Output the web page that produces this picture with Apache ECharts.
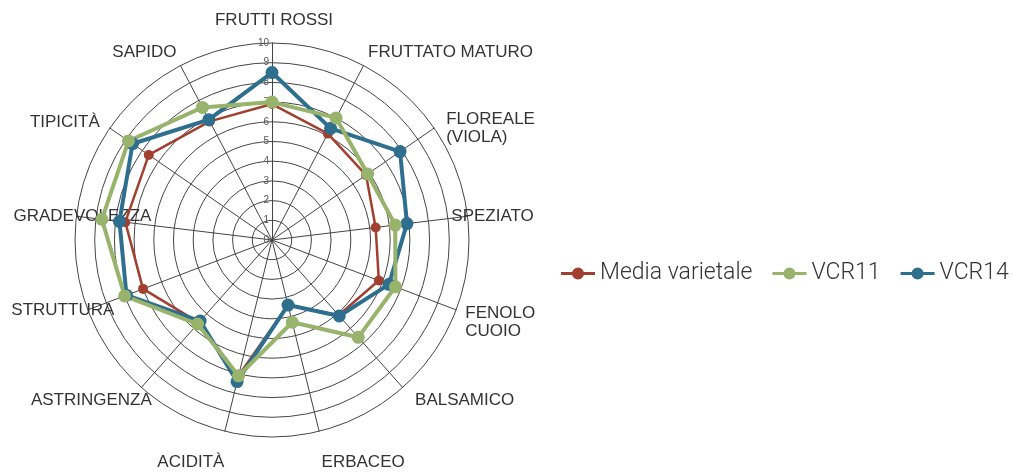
<!DOCTYPE html>
<html>
<head>
<meta charset="utf-8">
<script src="https://cdn.jsdelivr.net/npm/echarts@6/dist/echarts.min.js"></script>
<style>
  html, body { margin: 0; padding: 0; background: #fff; }
  #chart { width: 1014px; height: 472px; }
</style>
</head>
<body>
<div id="chart"></div>
<script>
// assi del radar (in senso orario dall'alto)
var categories = ['FRUTTI ROSSI', 'FRUTTATO MATURO', 'FLOREALE\n(VIOLA)', 'SPEZIATO', 'FENOLO\nCUOIO',
  'BALSAMICO', 'ERBACEO', 'ACIDITÀ', 'ASTRINGENZA', 'STRUTTURA', 'GRADEVOLEZZA', 'TIPICITÀ', 'SAPIDO'];
var seriesNames = ['Media varietale', 'VCR11', 'VCR14'];
var mediaVarietale = [6.9, 6.1, 5.8, 5.3, 5.8, 5.1, 3.4, 7.1, 5.6, 7.0, 7.5, 7.6, 6.8];
var vcr11 = [7.0, 7.0, 5.9, 6.3, 6.7, 6.6, 4.3, 7.1, 5.7, 8.0, 8.7, 8.85, 7.6];
var vcr14 = [8.5, 6.4, 7.9, 6.9, 6.35, 5.15, 3.4, 7.4, 5.5, 7.9, 7.8, 8.6, 6.9];
var tickMax = 10;

// posizione delle etichette: [dx, allineamento, verticalAlign, lineHeight, nameGap]
var nameLayout = [
  [2, 'center', 'middle', 18, 23],
  [87, 'center', 'bottom', 27, 0],
  [12, 'left', 'middle', 18, 0],
  [25, 'center', 'middle', 18, 0],
  [25, 'left', 'top', 18, -17],
  [62, 'center', 'top', 25, 0],
  [44, 'center', 'top', 62, 0],
  [-34, 'center', 'top', 62, 0],
  [-50, 'center', 'top', 25, 0],
  [-25, 'center', 'middle', 18, 0],
  [6, 'center', 'middle', 18, 0],
  [-45, 'center', 'bottom', 12, 0],
  [-36, 'center', 'bottom', 26, 0]
];

var colors = ['#a2402f', '#98b36b', '#2e6f8f'];
var legendIcon = 'path://M0,5.5 L34,5.5 L34,8.5 L0,8.5 Z M17,1 A6,6 0 1,1 16.99,1 Z';

// echarts disegna il radar in senso antiorario: inverto l'ordine (tranne il primo)
var order = [0];
for (var k = categories.length - 1; k > 0; k--) order.push(k);
function reorder(arr) {
  return order.map(function (i) { return arr[i]; });
}

function namePadding(dx, align) {
  if (align === 'left') return [0, 0, 0, dx];
  return [0, dx < 0 ? -2 * dx : 0, 0, dx > 0 ? 2 * dx : 0];
}

var myChart = echarts.init(document.getElementById('chart'));

var indicator = order.map(function (i) {
  var l = nameLayout[i];
  var item = {
    name: categories[i], max: tickMax, min: 0,
    nameGap: l[4],
    nameMoveOverlap: false,
    nameTextStyle: {
      align: l[1],
      verticalAlign: l[2],
      lineHeight: l[3],
      padding: namePadding(l[0], l[1])
    }
  };
  if (i === 0) {
    // solo il primo asse mostra le etichette 0-10
    item.axisLabel = { show: true };
  }
  return item;
});

var option = {
  animation: false,
  color: colors,
  legend: {
    data: seriesNames,
    left: 556,
    top: 257,
    itemWidth: 34,
    itemHeight: 14,
    itemGap: 20,
    icon: legendIcon,
    textStyle: {
      fontFamily: 'Roboto',
      fontWeight: 300,
      fontSize: 23,
      color: '#333'
    }
  },
  radar: {
    center: [272, 240],
    radius: 197,
    startAngle: 90,
    splitNumber: 10,
    shape: 'circle',
    nameGap: 0,
    axisName: {
      color: '#333',
      fontFamily: 'Liberation Sans',
      fontSize: 17,
      lineHeight: 18
    },
    axisLine: { lineStyle: { color: '#444', width: 1 } },
    splitLine: { lineStyle: { color: '#444', width: 1 } },
    splitArea: { show: false },
    axisLabel: {
      show: false,
      color: '#555',
      fontSize: 10,
      fontFamily: 'Liberation Sans',
      margin: 3
    },
    indicator: indicator
  },
  series: [{
    type: 'radar',
    symbol: 'circle',
    data: [
      {
        name: seriesNames[0], value: reorder(mediaVarietale), symbolSize: 10,
        lineStyle: { width: 2.5, color: colors[0] }, itemStyle: { color: colors[0] }
      },
      {
        name: seriesNames[2], value: reorder(vcr14), symbolSize: 13,
        lineStyle: { width: 4, color: colors[2] }, itemStyle: { color: colors[2] }
      },
      {
        name: seriesNames[1], value: reorder(vcr11), symbolSize: 13,
        lineStyle: { width: 4, color: colors[1] }, itemStyle: { color: colors[1] }
      }
    ]
  }]
};

myChart.setOption(option);
window.addEventListener('resize', function () {
  myChart.resize();
});
</script>
</body>
</html>
